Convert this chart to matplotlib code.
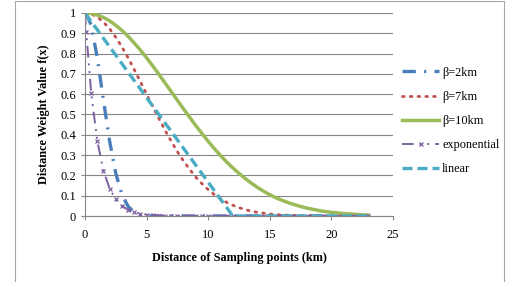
import matplotlib
matplotlib.use("Agg")
import matplotlib.pyplot as plt
from matplotlib.patches import Rectangle
from matplotlib.ticker import FormatStrFormatter, MultipleLocator

# distances (km) where the weights were sampled
dist_km = [0, 0.1, 0.5, 1, 1.5, 2, 2.5, 3, 3.5, 4, 4.5, 5, 5.5, 6, 6.5, 7, 7.5,
           8, 8.5, 9, 9.5, 10, 10.5, 11, 11.5, 12, 12.5, 13, 13.5, 14, 14.5,
           15, 15.5, 16, 16.5, 17, 17.5, 18, 18.5, 19, 19.5, 20, 20.5, 21,
           21.5, 22, 22.5, 23]

beta_2km = [1, 0.998, 0.939, 0.779, 0.570, 0.368, 0.210, 0.105, 0.047, 0.018,
            0.006, 0.002, 0, 0, 0, 0, 0, 0, 0, 0, 0, 0, 0, 0, 0, 0, 0, 0, 0,
            0, 0, 0, 0, 0, 0, 0, 0, 0, 0, 0, 0, 0, 0, 0, 0, 0, 0, 0]

beta_7km = [1, 1.0, 0.995, 0.980, 0.955, 0.922, 0.880, 0.832, 0.779, 0.721,
            0.661, 0.600, 0.539, 0.480, 0.422, 0.368, 0.317, 0.271, 0.229,
            0.191, 0.159, 0.130, 0.105, 0.085, 0.067, 0.053, 0.041, 0.032,
            0.024, 0.018, 0.014, 0.010, 0.007, 0.005, 0.004, 0.003, 0.002,
            0.001, 0.001, 0, 0, 0, 0, 0, 0, 0, 0, 0]

beta_10km = [1, 1.0, 0.998, 0.990, 0.978, 0.961, 0.939, 0.914, 0.885, 0.852,
             0.817, 0.779, 0.739, 0.698, 0.655, 0.613, 0.570, 0.527, 0.486,
             0.445, 0.406, 0.368, 0.332, 0.298, 0.266, 0.237, 0.210, 0.185,
             0.162, 0.141, 0.122, 0.105, 0.090, 0.077, 0.066, 0.056, 0.047,
             0.039, 0.033, 0.027, 0.022, 0.018, 0.015, 0.012, 0.010, 0.008,
             0.006, 0.005]

exponential = [1, 0.905, 0.607, 0.368, 0.223, 0.135, 0.082, 0.050, 0.030,
               0.018, 0.011, 0.007, 0.004, 0.002, 0.002, 0.001, 0.001, 0, 0,
               0, 0, 0, 0, 0, 0, 0, 0, 0, 0, 0, 0, 0, 0, 0, 0, 0, 0, 0, 0, 0,
               0, 0, 0, 0, 0, 0, 0, 0]

linear = [1, 0.992, 0.958, 0.917, 0.875, 0.833, 0.792, 0.750, 0.708, 0.667,
          0.625, 0.583, 0.542, 0.500, 0.458, 0.417, 0.375, 0.333, 0.292,
          0.250, 0.208, 0.167, 0.125, 0.083, 0.042, 0, 0, 0, 0, 0, 0, 0, 0,
          0, 0, 0, 0, 0, 0, 0, 0, 0, 0, 0, 0, 0, 0, 0]

plt.rcParams["font.family"] = ["Liberation Serif", "DejaVu Serif"]

fig = plt.figure(figsize=(5.09, 2.82), dpi=100)
ax = fig.add_axes([0.167, 0.234, 0.605, 0.720])

# outer chart frame (Excel style)
fig.patches.append(Rectangle((15 / 509, -0.2), 489 / 509, 1.2 - 1.5 / 282,
                             transform=fig.transFigure, fill=False,
                             edgecolor="#a6a6a6", lw=0.8))

ax.plot(dist_km, beta_2km, color="#4a7ebb", lw=2.4,
        ls=(0, (4, 2.5, 0.6, 2.5)), label="β=2km")
ax.plot(dist_km, beta_7km, color="#c0504d", lw=2.0,
        ls=(0, (0.6, 2.2)), dash_capstyle="round", label="β=7km")
ax.plot(dist_km, beta_10km, color="#9bbb59", lw=2.5, label="β=10km")
ax.plot(dist_km, exponential, color="#7d60a0", lw=1.4,
        ls=(0, (6, 3, 1, 3, 1, 3)), marker="x", ms=3.5, mew=0.9,
        label="exponential")
ax.plot(dist_km, linear, color="#4bacc6", lw=2.4, ls=(0, (3, 1.5)),
        label="linear")

ax.set_xlim(0, 25)
ax.set_ylim(0, 1)
ax.xaxis.set_major_locator(MultipleLocator(5))
ax.yaxis.set_major_locator(MultipleLocator(0.1))
ax.yaxis.set_major_formatter(FormatStrFormatter("%g"))
ax.grid(axis="y", color="#868686", lw=0.8)
ax.set_axisbelow(True)
for side in ("top", "right"):
    ax.spines[side].set_visible(False)
for side in ("left", "bottom"):
    ax.spines[side].set_color("#868686")
ax.tick_params(axis="both", colors="#868686", labelcolor="black",
               labelsize=9, length=3, width=0.8)
ax.tick_params(axis="x", pad=6)

ax.set_xlabel("Distance of Sampling points (km)", fontsize=8.8,
              fontweight="bold", labelpad=8)
ax.set_ylabel("Distance Weight Value f(x)", fontsize=8.8, fontweight="bold",
              labelpad=7)

ax.legend(loc="upper left", bbox_to_anchor=(1.015, 0.76), frameon=False,
          fontsize=8.8, handlelength=3.0, handletextpad=0.25,
          labelspacing=1.0, borderaxespad=0)

fig.savefig("out.png", dpi=100)
